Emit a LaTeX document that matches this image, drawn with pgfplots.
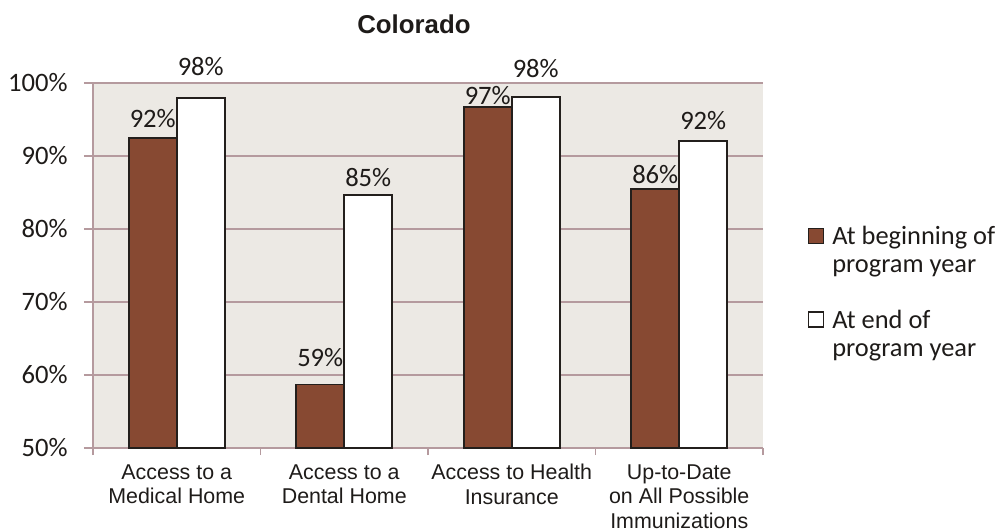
\documentclass[border=0pt]{standalone}
\usepackage{pgfplots}
\usepackage{pgfplotstable}
\pgfplotsset{compat=1.18}
\usepackage{fontspec}
\setmainfont{Liberation Sans}
\newfontfamily\carlito{Carlito}

\definecolor{barbrown}{RGB}{135,73,50}
\definecolor{bardark}{RGB}{35,31,28}
\definecolor{plotbg}{RGB}{236,233,228}
\definecolor{gridc}{RGB}{181,154,158}
\definecolor{txt}{RGB}{30,27,25}

% x  value  label  label offset (pt above bar top)
\pgfplotstableread{
x y lab off
0 92.5 92 5
1 58.7 59 9
2 96.7 97 1.5
3 85.5 86 2.5
}\beginyear
\pgfplotstableread{
x y lab off
0 98.0 98 11
1 84.7 85 4.3
2 98.1 98 9.5
3 92.1 92 5.5
}\endyear

\begin{document}
\begin{tikzpicture}
\useasboundingbox (-46.5pt,-41.5pt) rectangle (452.5pt,224pt);
\begin{axis}[
    at={(0pt,0pt)}, anchor=south west,
    scale only axis,
    width=335pt, height=182.5pt,
    ybar=0pt, bar width=24pt,
    xmin=-0.5, xmax=3.5,
    ymin=50, ymax=100,
    enlargelimits=false,
    clip=false,
    axis background/.style={fill=plotbg},
    axis lines=left,
    axis line style={draw=gridc, line width=0.7pt, -},
    tick align=outside,
    major tick length=4.5pt,
    minor tick length=3.5pt,
    tick style={draw=gridc, line width=0.7pt},
    major x tick style={draw=none},
    xtick={0,1,2,3},
    minor xtick={-0.5,0.5,1.5,2.5,3.5},
    xticklabels={{Access to a\\Medical Home},{Access to a\\Dental Home},{Access to Health\\Insurance},{Up-to-Date\\on All Possible\\Immunizations}},
    xticklabel style={align=center, font=\fontsize{10.7}{12.3}\selectfont, text=txt, anchor=north, inner sep=0pt, yshift=-3.5pt},
    ytick={50,60,70,80,90,100},
    yticklabels={50\%,60\%,70\%,80\%,90\%,100\%},
    yticklabel style={font=\carlito\fontsize{13.3}{15}\selectfont, text=txt, anchor=east, inner sep=0pt, xshift=-8pt},
    ymajorgrids=true,
    major grid style={draw=gridc, line width=0.7pt},
    title={\textbf{Colorado}},
    title style={at={(0.479,1)}, anchor=base, yshift=19pt, font=\fontsize{12.9}{15}\selectfont, text=txt},
    point meta=explicit symbolic,
    nodes near coords={\pgfplotspointmeta\%},
    visualization depends on={\thisrow{off} \as \laboff},
    every node near coord/.append style={font=\carlito\fontsize{13.3}{15}\selectfont, text=txt, anchor=base, inner sep=0pt, yshift=\laboff pt},
    legend image code/.code={\path[draw=none, fill=none] (0pt,-12pt) -- (0pt,12pt);
        \draw[#1, line width=0.7pt] (0pt,3.8pt) rectangle (7.5pt,11.3pt);},
    legend style={at={(axis description cs:1.067,0.607)}, anchor=north west,
        draw=none, fill=none, inner sep=0pt, outer sep=0pt,
        nodes={inner sep=0pt, align=left, text=txt, font=\carlito\fontsize{13.2}{14}\selectfont},
        column sep=4pt, row sep=17pt},
    legend cell align=left,
]
\addplot[fill=barbrown, draw=bardark, line width=0.9pt] table[x=x, y=y, meta=lab] {\beginyear};
\addlegendentry{At beginning of\\program year}
\addplot[fill=white, draw=bardark, line width=0.9pt] table[x=x, y=y, meta=lab] {\endyear};
\addlegendentry{At end of\\program year}
\end{axis}
\end{tikzpicture}
\end{document}
